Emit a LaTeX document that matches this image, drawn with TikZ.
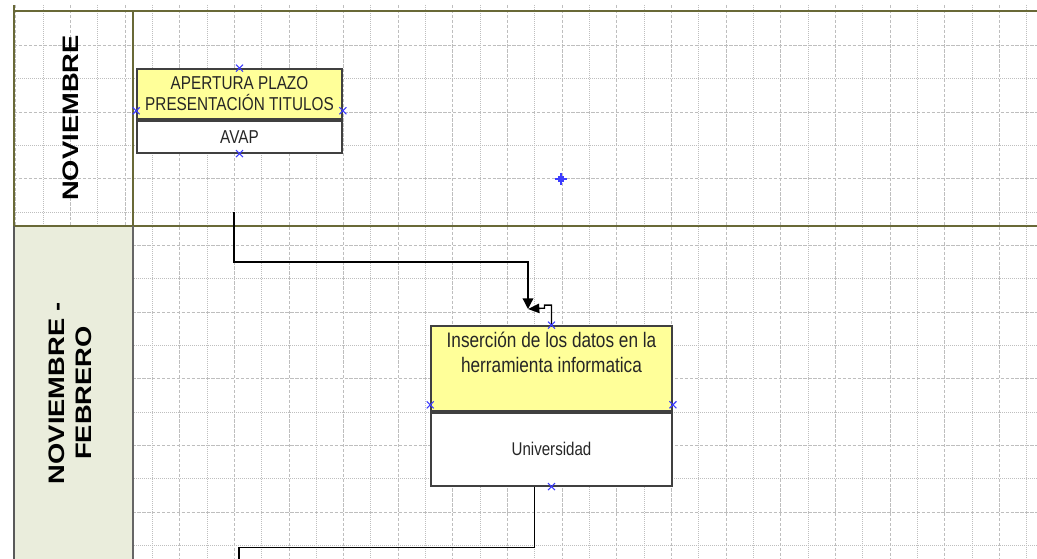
\documentclass[tikz,border=0pt]{standalone}
\usepackage{fontspec}
\setmainfont{Liberation Sans}
\newfontfamily\taskfont[FakeStretch=0.82]{Liberation Sans}
\newfontfamily\lanefont[FakeStretch=1.22]{Liberation Sans}
\usepackage{tikz}
\usetikzlibrary{arrows.meta,positioning}
\definecolor{laneolive}{RGB}{105,105,55}
\definecolor{lanefill}{RGB}{234,237,220}
\definecolor{taskyellow}{RGB}{255,255,153}
\definecolor{gridgrey}{RGB}{190,190,190}
\definecolor{hitblue}{RGB}{60,60,255}
\tikzstyle{gmaj}=[
	draw=gridgrey,
	line width=0.75pt,
	dash pattern=on 2.5pt off 1.2pt
]
\tikzstyle{gmin}=[
	draw=gridgrey,
	line width=0.75pt,
	dash pattern=on 0.75pt off 0.75pt
]
\tikzstyle{laneline}=[
	draw=laneolive,
	line width=1.6pt
]
\tikzstyle{lanetitle}=[
	rotate=90,
	align=center,
	font={\lanefont\bfseries\fontsize{16.8pt}{20pt}\selectfont}
]
\tikzstyle{task}=[
	rectangle,
	draw=black!75,
	line width=1.3pt,
	fill=taskyellow,
	inner sep=0pt,
	align=center,
	text=black!85,
	font={\taskfont\fontsize{14pt}{15.75pt}\selectfont}
]
\tikzstyle{actor}=[
	task,
	fill=white
]
\tikzstyle{tasktext}=[
	inner sep=0pt,
	align=center,
	text=black!85,
	font={\taskfont\fontsize{15.75pt}{18.75pt}\selectfont}
]
\tikzstyle{edge}=[
	-,
	draw=black,
	line width=1pt
]
\tikzstyle{hit}=[
	draw=hitblue,
	line width=0.8pt
]

\begin{document}
\begin{tikzpicture}[x=0.75pt, y=-0.75pt]
\useasboundingbox (0,0) rectangle (1037,559);

% grid
\foreach \k in {0,2,...,36} \draw[gmaj] ({15.7+27.33*\k},5) -- ({15.7+27.33*\k},559);
\foreach \k in {1,3,...,37} \draw[gmin] ({15.7+27.33*\k},5) -- ({15.7+27.33*\k},559);
\foreach \k in {1,3,...,15} \draw[gmaj] (14,{12+33.35*\k}) -- (1037,{12+33.35*\k});
\foreach \k in {0,2,...,16} \draw[gmin] (14,{12+33.35*\k}) -- (1037,{12+33.35*\k});

% lanes
\fill[lanefill] (14,226) rectangle (133,559);
\draw[laneline] (14,11) -- (1037,11);
\draw[laneline] (14,226) -- (1037,226);
\draw[laneline] (14,5) -- (14,226);
\draw[black!65, line width=1.4pt] (14,226) -- (14,559);
\draw[laneolive, line width=0.8pt] (133,11) -- (133,226);
\draw[black!60, line width=1pt] (133,226) -- (133,559);

\node[lanetitle] (nov) at (71,118) {NOVIEMBRE};
\node[lanetitle] (novfeb) at (70,393) {NOVIEMBRE -\\FEBRERO};

% tasks
\node[task, minimum width=153.75pt, minimum height=37.5pt] (ap) at (239.5,94) {APERTURA PLAZO\\PRESENTACIÓN TITULOS};
\node[actor, minimum width=153.75pt, minimum height=24pt, below=0pt of ap] (avap) {AVAP};

\node[task, minimum width=180.75pt, minimum height=63.75pt] (ins) at (551.5,368.5) {};
\node[tasktext, below=5pt of ins.north] (insT) {Inserción de los datos en la\\herramienta informatica};
\node[actor, minimum width=180.75pt, minimum height=54.75pt, below=0pt of ins, font={\taskfont\fontsize{13.8pt}{15pt}\selectfont}] (uni) {Universidad};

% connectors
\coordinate (c1) at (234,212);
\coordinate (jn) at (528,309);
\coordinate (c3) at (239,559);
\draw[edge, -{Triangle[length=8pt,width=8pt]}] (c1) -- ++(0,50) -| (jn);
\draw[edge, -{Triangle[length=8.5pt,width=7pt]}] (ins.north) -- ++(0,-20) -- ++(-7,0) -- ++(0,3) -- (jn);
\draw[edge] ([xshift=-12.75pt]uni.south) -- ++(0,61) -| (c3);

% connection points
\coordinate (apw) at ([yshift=6.75pt]ap.south west);
\coordinate (ape) at ([yshift=6.75pt]ap.south east);
\coordinate (insw) at ([yshift=5.25pt]ins.south west);
\coordinate (inse) at ([yshift=5.25pt]ins.south east);
\foreach \p in {ap.north, apw, ape, avap.south, ins.north, insw, inse, uni.south}
	\draw[hit] (\p) +(-3.5,-3.5) -- +(3.5,3.5) +(-3.5,3.5) -- +(3.5,-3.5);

\coordinate (orig) at (561,179);
\draw[hit, line width=1pt] (orig) +(0,-6) -- +(0,6) +(-6,0) -- +(6,0);
\draw[hit, line width=0.8pt] (orig) +(-2,-2) rectangle +(2,2);
\end{tikzpicture}
\end{document}
